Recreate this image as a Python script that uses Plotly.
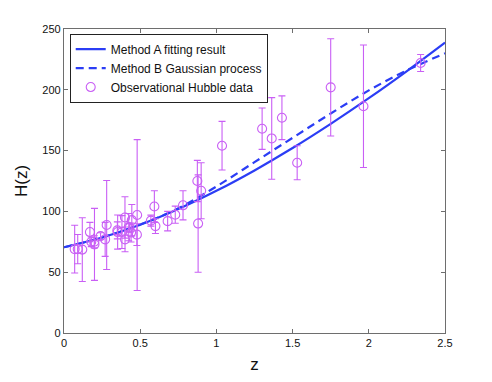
import plotly.graph_objects as go

# observational Hubble data (z, H(z), sigma)
z_obs = [0.07, 0.09, 0.12, 0.17, 0.179, 0.199, 0.2, 0.24, 0.27, 0.28,
         0.35, 0.352, 0.3802, 0.4, 0.4004, 0.4247, 0.43, 0.44, 0.44497, 0.4783,
         0.48, 0.57, 0.593, 0.6, 0.68, 0.73, 0.781, 0.875, 0.88, 0.9,
         1.037, 1.3, 1.363, 1.43, 1.53, 1.75, 1.965, 2.34]
h_obs = [69, 69, 68.6, 83, 75, 75, 72.9, 79.7, 77, 88.8,
         84.4, 83, 83, 95, 77, 87.1, 86.5, 82.6, 92.8, 80.9,
         97, 92.4, 104, 87.9, 92, 97.3, 105, 125, 90, 117,
         154, 168, 160, 177, 140, 202, 186.5, 222]
h_err = [19.6, 12, 26.2, 8, 4, 5, 29.6, 2.7, 14, 36.6,
         7, 14, 13.5, 17, 10.2, 11.2, 3.7, 7.8, 12.9, 9,
         62, 4.5, 13, 6.1, 8, 7, 12, 17, 40, 23,
         20, 17, 33.6, 18, 14, 40, 50.4, 7]

# reconstructed curves
z_fit = [0, 0.25, 0.5, 0.75, 1.0, 1.25, 1.5, 1.75, 2.0, 2.25, 2.5]
h_method_a = [70.5, 78.5, 89.0, 101.9, 116.9, 133.7, 152.1, 172.0, 193.1, 215.4, 238.8]
h_method_b = [70.5, 78.5, 89.2, 102.5, 120.5, 140.5, 160.5, 180.5, 199.5, 216.0, 230.0]

blue = "#2b3df5"
violet = "#c95ff5"

fig = go.Figure()
fig.add_trace(go.Scatter(
    x=z_fit, y=h_method_a, mode="lines", line_shape="spline",
    line=dict(color=blue, width=2.2), name="Method A fitting result"))
fig.add_trace(go.Scatter(
    x=z_fit, y=h_method_b, mode="lines", line_shape="spline",
    line=dict(color=blue, width=2.2, dash="8px,5px"), name="Method B Gaussian process"))
fig.add_trace(go.Scatter(
    x=z_obs, y=h_obs, mode="markers", name="Observational Hubble data",
    marker=dict(symbol="circle-open", size=9, color=violet, line=dict(width=1.1)),
    error_y=dict(type="data", array=h_err, visible=True, color=violet,
                 thickness=1.1, width=3.5)))

axis_common = dict(
    showgrid=False, zeroline=False, showline=True, linecolor="#6e6e6e", linewidth=1.2,
    mirror="ticks", ticks="inside", ticklen=4, tickcolor="#6e6e6e",
    tickfont=dict(family="Liberation Sans, Arial, sans-serif", size=11, color="#111"),
)

# the page body adds an 8px margin, so the figure is shrunk to fit the window
fig.update_layout(
    width=484, height=374,
    margin=dict(l=56, r=47, t=21, b=44),
    paper_bgcolor="white", plot_bgcolor="white",
    font=dict(family="Liberation Sans, Arial, sans-serif", color="#111"),
    xaxis=dict(range=[0, 2.5], tickvals=[0, 0.5, 1, 1.5, 2, 2.5],
               ticktext=["0", "0.5", "1", "1.5", "2", "2.5"],
               title=dict(text="z", font=dict(size=17), standoff=9), **axis_common),
    yaxis=dict(range=[0, 250], tickvals=[0, 50, 100, 150, 200, 250],
               title=dict(text="H(z)", font=dict(size=17), standoff=10), **axis_common),
    legend=dict(x=0.015, y=0.985, xanchor="left", yanchor="top",
                bgcolor="white", bordercolor="#222", borderwidth=1,
                font=dict(size=12), tracegroupgap=0,
                itemwidth=30),
    showlegend=True,
)

fig.write_html("out.html")
